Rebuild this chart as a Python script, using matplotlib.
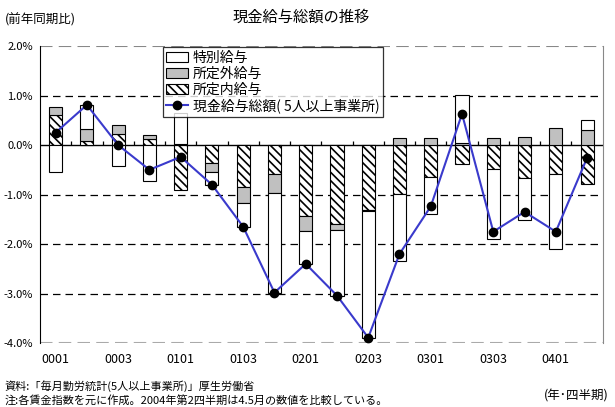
import numpy as np
import matplotlib.pyplot as plt
from matplotlib.patches import Patch
from matplotlib.lines import Line2D

plt.rcParams['font.family'] = ['Noto Sans CJK JP', 'DejaVu Sans']
plt.rcParams['hatch.linewidth'] = 1.2

# 四半期 (年下2桁 + 四半期)
quarters = ['0001', '0002', '0003', '0004', '0101', '0102', '0103', '0104', '0201',
            '0202', '0203', '0204', '0301', '0302', '0303', '0304', '0401', '0402']

# 寄与度 (%)
special = [-0.54, 0.48, -0.42, -0.72, 0.62, -0.25, -0.48, -2.01, -0.67,
           -1.33, -2.56, -1.35, -0.75, 0.97, -1.40, -0.85, -1.52, 0.20]      # 特別給与
overtime = [0.16, 0.25, 0.18, 0.07, 0.03, -0.18, -0.33, -0.38, -0.29,
            -0.12, -0.02, 0.14, 0.14, 0.05, 0.14, 0.16, 0.35, 0.31]          # 所定外給与
scheduled = [0.61, 0.08, 0.22, 0.13, -0.90, -0.37, -0.84, -0.59, -1.44,
             -1.59, -1.32, -0.99, -0.65, -0.39, -0.49, -0.67, -0.58, -0.78]  # 所定内給与
total = [0.25, 0.81, 0.00, -0.50, -0.24, -0.80, -1.65, -2.98, -2.40,
         -3.04, -3.89, -2.20, -1.24, 0.63, -1.75, -1.35, -1.75, -0.26]     # 現金給与総額

fig = plt.figure(figsize=(6.15, 4.07), dpi=100)
ax = fig.add_axes([0.065, 0.157, 0.915, 0.730])

x = np.arange(len(quarters))
w = 0.42
pos = np.zeros(len(x))
neg = np.zeros(len(x))

# 所定内 -> 所定外 -> 特別 の順に積み上げ (正負別)
for vals, fc, hatch in [(scheduled, 'white', '\\\\\\\\'),
                        (overtime, '#c0c0c0', None),
                        (special, 'white', None)]:
    v = np.array(vals)
    bottom = np.where(v >= 0, pos, neg)
    ax.bar(x, v, w, bottom=bottom, color=fc, edgecolor='black', linewidth=0.8,
           hatch=hatch, zorder=3)
    pos = pos + np.where(v >= 0, v, 0)
    neg = neg + np.where(v < 0, v, 0)

ax.plot(x, total, color='#3a3acc', lw=1.5, marker='o', markersize=6,
        markerfacecolor='black', markeredgecolor='black', zorder=4)

# 目盛線
for g in [1.0, -1.0, -2.0, -3.0]:
    ax.axhline(g, color='black', lw=0.9, dashes=(6, 4), zorder=1)
ax.axhline(2.0, color='#888888', lw=1.5, dashes=(6, 3), zorder=1)
ax.axhline(-4.0, color='#aaaaaa', lw=1.5, dashes=(6, 3), zorder=1)
ax.axhline(0, color='black', lw=1.0, zorder=2)
ax.vlines(x[1:] - 0.5, 0, 0.09, color='black', lw=0.9, zorder=2)

ax.set_xlim(-0.5, len(x) - 0.5)
ax.set_ylim(-4.0, 2.0)
ax.set_yticks(np.arange(-4, 2.01, 1.0))
ax.set_yticklabels([f'{v:.1f}%' for v in np.arange(-4, 2.01, 1.0)])
ax.set_xticks(x[::2])
ax.set_xticklabels(quarters[::2])
ax.tick_params(axis='both', length=0)
ax.tick_params(axis='x', pad=7, labelsize=9)
ax.tick_params(axis='y', pad=5, labelsize=8)

ax.spines['top'].set_visible(False)
ax.spines['bottom'].set_visible(False)
ax.spines['right'].set_color('#888888')
ax.spines['left'].set_color('black')

handles = [Patch(facecolor='white', edgecolor='black', lw=0.8),
           Patch(facecolor='#c0c0c0', edgecolor='black', lw=0.8),
           Patch(facecolor='white', edgecolor='black', lw=0.8, hatch='\\\\\\\\'),
           Line2D([], [], color='#3a3acc', lw=1.5, marker='o', markersize=6,
                  markerfacecolor='black', markeredgecolor='black')]
labels = ['特別給与', '所定外給与', '所定内給与', '現金給与総額( 5人以上事業所)']
leg = ax.legend(handles, labels, loc='upper left', bbox_to_anchor=(0.218, 0.995),
                fontsize=10, frameon=True, fancybox=False, borderpad=0.25,
                labelspacing=0.13, handlelength=1.6, handletextpad=0.3,
                borderaxespad=0)
leg.get_frame().set_edgecolor('black')
leg.get_frame().set_linewidth(0.9)
leg.set_zorder(5)

fig.text(0.49, 0.958, '現金給与総額の推移', ha='center', va='center', fontsize=11)
fig.text(0.008, 0.952, '(前年同期比)', ha='left', va='center', fontsize=9)
fig.text(0.008, 0.052, '資料:「毎月勤労統計(5人以上事業所)」厚生労働省', ha='left', va='center', fontsize=8)
fig.text(0.008, 0.016, '注:各賃金指数を元に作成。2004年第2四半期は4.5月の数値を比較している。',
         ha='left', va='center', fontsize=8)
fig.text(0.99, 0.027, '(年･四半期)', ha='right', va='center', fontsize=9)

fig.savefig('out.png', dpi=100)
